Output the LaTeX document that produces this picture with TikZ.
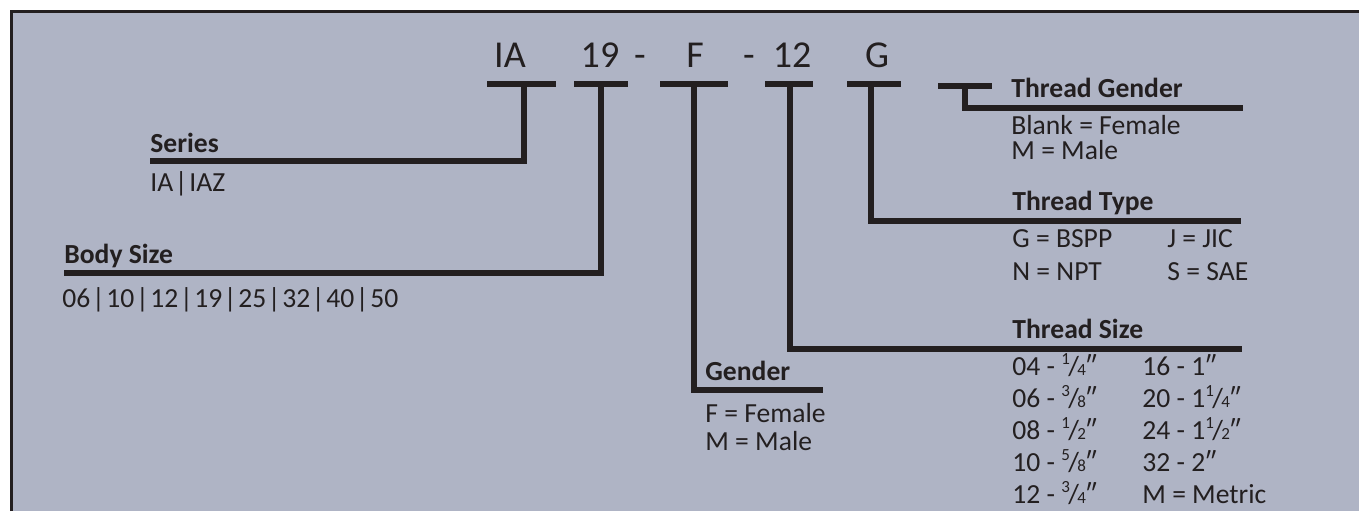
\documentclass[tikz,border=0pt]{standalone}
\usepackage{fontspec}
\setmainfont{Carlito}
\usetikzlibrary{positioning}
\definecolor{fond}{HTML}{AFB4C5}
\definecolor{encre}{HTML}{231F20}
\newcommand\nfrac[2]{\raisebox{.38em}{\fontsize{8.5}{9}\selectfont#1}\kern-.06em/\kern-.06em{\fontsize{8.5}{9}\selectfont#2}}
\newcommand\ou{\hspace{.06em}|\hspace{.06em}}
\tikzset{
  code/.style={anchor=base,inner sep=0pt,text=encre,font=\fontsize{19}{20}\selectfont},
  titre/.style={anchor=base west,inner sep=0pt,text=encre,font=\fontsize{13.8}{15}\selectfont\bfseries},
  choix/.style={anchor=base west,inner sep=0pt,text=encre,font=\fontsize{13.8}{15}\selectfont},
  trait/.style={draw=encre,line width=2.8pt},
}
\begin{document}
\begin{tikzpicture}[x=0.5pt,y=-0.5pt]
    \useasboundingbox (0,0) rectangle (1359,511);
    \fill[fond] (10,10) rectangle (1359,511);
    \draw[encre,line width=1.5pt] (11,511) -- (11,11) -- (1359,11);
    % le code
    \node[code] (cIA) at (510,67) {IA};
    \node[code] (c19) at (600,67) {19};
    \node[code] (t1) at (640,67) {-};
    \node[code] (cF) at (695,67) {F};
    \node[code] (t2) at (749,67) {-};
    \node[code] (c12) at (792,67) {12};
    \node[code] (cG) at (877,67) {G};
    % les barres sous le code
    \draw[trait] (487,84) -- (556,84);
    \draw[trait] (574,84) -- (628,84);
    \draw[trait] (660,84) -- (728,84);
    \draw[trait] (765,84) -- (813,84);
    \draw[trait] (847,84) -- (901,84);
    \draw[trait] (938,86) -- (992,86);
    \coordinate (bIA) at (524,84);
    \coordinate (b19) at (601,84);
    \coordinate (bF) at (694,84);
    \coordinate (b12) at (790,84);
    \coordinate (bG) at (871,84);
    \coordinate (bM) at (965,86);
    % Series
    \node[titre] (series) at (150,152) {Series};
    \node[choix] (seriesv) at (150,191) {IA\ou IAZ};
    \coordinate (lseries) at (150,161);
    \draw[trait] (bIA) |- (lseries);
    % Body Size
    \node[titre] (body) at (64,263) {Body Size};
    \node[choix] (bodyv) at (62,307) {06\ou 10\ou 12\ou 19\ou 25\ou 32\ou 40\ou 50};
    \coordinate (lbody) at (64,273);
    \draw[trait] (b19) |- (lbody);
    % Gender
    \node[titre] (gender) at (705,380) {Gender};
    \node[choix] (gf) at (705,422) {F = Female};
    \node[choix] (gm) at (705,450) {M = Male};
    \coordinate (lgender) at (823,390);
    \draw[trait] (bF) |- (lgender);
    % Thread Size
    \node[titre] (tsize) at (1012,338) {Thread Size};
    \coordinate (ltsize) at (1242,349);
    \draw[trait] (b12) |- (ltsize);
    \foreach \g/\d [count=\i from 0] in {04 - \nfrac{1}{4}″/16 - 1″,
        06 - \nfrac{3}{8}″/20 - 1\nfrac{1}{4}″, 08 - \nfrac{1}{2}″/24 - 1\nfrac{1}{2}″,
        10 - \nfrac{5}{8}″/32 - 2″, 12 - \nfrac{3}{4}″/M = Metric}
    {
        \node[choix] (tsg\i) at (1012,375+32*\i) {\g};
        \node[choix] (tsd\i) at (1142,375+32*\i) {\d};
    }
    % Thread Type
    \node[titre] (ttype) at (1012,210) {Thread Type};
    \node[choix] (tt1) at (1012,247) {G = BSPP};
    \node[choix] (tt2) at (1167,247) {J = JIC};
    \node[choix] (tt3) at (1012,280) {N = NPT};
    \node[choix] (tt4) at (1167,280) {S = SAE};
    \coordinate (lttype) at (1241,221);
    \draw[trait] (bG) |- (lttype);
    % Thread Gender
    \node[titre] (tgender) at (1011,97) {Thread Gender};
    \node[choix] (tg1) at (1011,134) {Blank = Female};
    \node[choix] (tg2) at (1011,159) {M = Male};
    \coordinate (ltgender) at (1243,108);
    \draw[trait] (bM) |- (ltgender);
\end{tikzpicture}
\end{document}
